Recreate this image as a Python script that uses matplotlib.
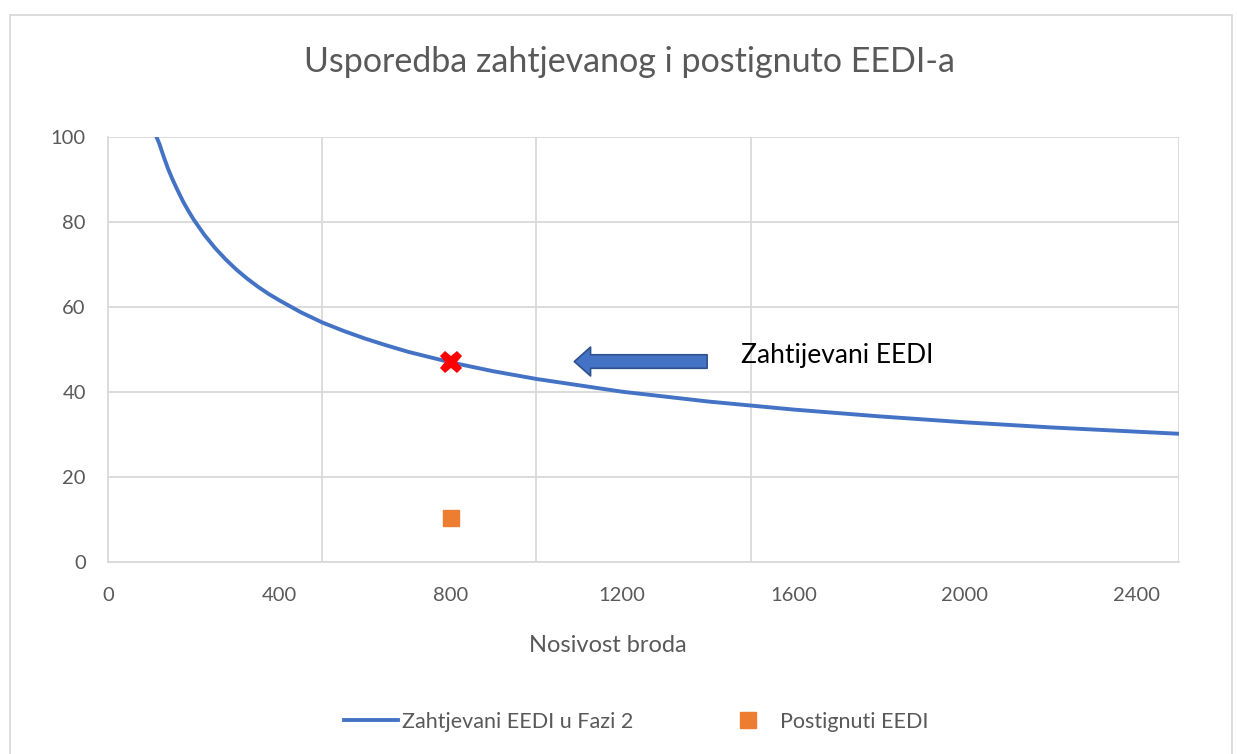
import numpy as np
import matplotlib
matplotlib.use("Agg")
import matplotlib.pyplot as plt
from matplotlib.lines import Line2D
from matplotlib.patches import Rectangle

plt.rcParams["font.family"] = ["Lato", "DejaVu Sans"]

# required EEDI curve
dwt = [113, 120, 130, 140, 150, 160, 175, 185, 200, 225, 250, 275, 300, 325, 350,
       375, 400, 450, 500, 550, 600, 650, 700, 800, 900, 1000, 1200, 1400, 1600,
       1800, 2000, 2200, 2400, 2500]
eedi_req = [100, 98.3, 95.3, 92.5, 90.1, 87.9, 84.8, 83.0, 80.5, 76.9, 73.8, 71.1,
            68.7, 66.6, 64.7, 63.0, 61.5, 58.7, 56.3, 54.3, 52.5, 50.9, 49.4, 46.9,
            44.8, 43.0, 40.0, 37.7, 35.8, 34.2, 32.8, 31.6, 30.6, 30.1]

# ship point
ship_dwt = [800]
ship_req = [46.9]
ship_att = [10.4]

# annotation arrow (tail -> tip)
arrow_x = [1405, 1082]
arrow_y = [47.1, 47.1]

gray = "#595959"
grid_c = "#D9D9D9"

fig = plt.figure(figsize=(12.37, 7.54), dpi=100)
ax = fig.add_axes([108 / 1237, 1 - 561.7 / 754, (1179 - 108) / 1237, (561.7 - 136.7) / 754])

ax.plot(dwt, eedi_req, color="#4472C4", lw=2.8, solid_capstyle="round",
        solid_joinstyle="round", zorder=3)
ax.plot(ship_dwt, ship_req, linestyle="none", marker="X", color="#FF0000",
        markersize=16, markeredgewidth=0, zorder=4)
ax.plot(ship_dwt, ship_att, linestyle="none", marker="s", color="#ED7D31",
        markersize=12, zorder=4)

ax.annotate("", xy=(arrow_x[1], arrow_y[1]), xytext=(arrow_x[0], arrow_y[0]),
            arrowprops=dict(arrowstyle="simple,head_length=0.9,head_width=1.6,tail_width=0.75",
                            fc="#4472C4", ec="#2F528F", lw=1.2, mutation_scale=13),
            zorder=5)
ax.text(1478, 48.5, "Zahtijevani EEDI", fontsize=19, color="black", va="center", ha="left")

ax.set_xlim(0, 2500)
ax.set_ylim(0, 100)
ax.set_xticks(range(0, 2401, 400))
ax.set_xticks(range(0, 2501, 500), minor=True)
ax.set_yticks(range(0, 101, 20))
ax.grid(False)
ax.grid(True, which="minor", axis="x", color=grid_c, lw=1.3)
ax.grid(True, which="major", axis="y", color=grid_c, lw=1.3)
ax.set_axisbelow(True)
for s in ["top", "right"]:
    ax.spines[s].set_visible(False)
for s in ["left", "bottom"]:
    ax.spines[s].set_color(grid_c)
    ax.spines[s].set_linewidth(1.3)
ax.tick_params(which="both", length=0, labelsize=14.5, labelcolor=gray)
ax.tick_params(axis="x", pad=18)
ax.tick_params(axis="y", pad=16)

fig.text(630 / 1237, 1 - 62 / 754, "Usporedba zahtjevanog i postignuto EEDI-a",
         fontsize=24.5, color=gray, ha="center", va="center")
fig.text(608 / 1237, 1 - 646 / 754, "Nosivost broda", fontsize=17, color=gray,
         ha="center", va="center")

handles = [Line2D([], [], color="#4472C4", lw=2.8),
           Line2D([], [], linestyle="none", marker="s", color="#ED7D31", markersize=12)]
fig.legend(handles, ["Zahtjevani EEDI u Fazi 2", "Postignuti EEDI"],
           loc="center", bbox_to_anchor=(636 / 1237, 1 - 722 / 754), ncol=2,
           frameon=False, fontsize=15.5, labelcolor=gray, handlelength=2.5,
           handletextpad=0.2, columnspacing=4.1)

fig.patches.append(Rectangle((10 / 1237, -0.05), (1232 - 10) / 1237, 1 - 15 / 754 + 0.05,
                             transform=fig.transFigure, fill=False, ec=grid_c, lw=1.3))

fig.savefig("out.png", dpi=100)
